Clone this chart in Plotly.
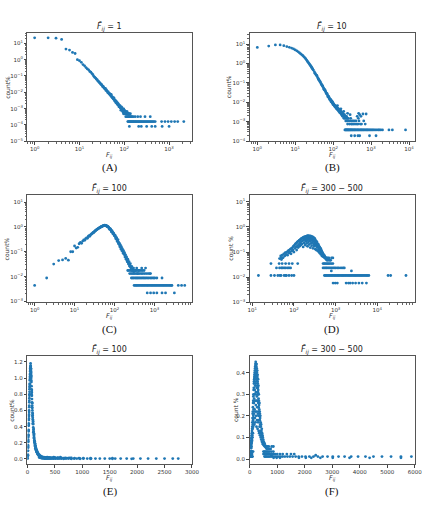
import plotly.graph_objects as go

BLUE = "#1f77b4"
W, H = 431, 505

# ---------------- Panel A : F^ = 1 (log-log) ----------------
A_head_x = [1, 2, 3, 4, 5, 6, 7, 8, 9, 10, 11, 12, 13, 14, 15, 16, 17, 18, 19, 20]
A_head_y = [22, 22, 21, 17.4, 4.5, 3.9, 2.8, 2.4, 1.0, 0.87, 0.69, 0.5, 0.42, 0.33, 0.27, 0.24, 0.19, 0.17, 0.14, 0.12]
A_band_x = [21, 22, 23, 24, 25, 26, 27, 28, 29, 30, 31, 32, 33, 34, 35, 36, 37, 38, 39, 40,
            41, 42, 43, 44, 45, 46, 47, 48, 49, 50, 52, 53, 54, 55, 56, 57, 58, 60, 61, 62,
            64, 65, 66, 68, 69, 70, 72, 73, 75, 76, 78, 80, 81, 83, 85, 86, 88, 90, 91, 93,
            95, 97, 99, 101, 103, 105, 107, 110, 112, 115, 118, 120, 123, 126, 129, 133, 137, 140, 145, 150,
            160, 175, 200, 230, 290, 380,
            51, 59, 63, 67, 71, 74, 77, 79, 82, 84, 87, 89, 92, 94, 96, 98, 100, 102, 104, 106,
            108, 111, 113, 116, 119, 122, 125, 128]
A_band_y = [.095, .082, .074, .063, .058, .048, .045, .039, .036, .031, .030, .026, .022, .023, .019, .018, .016, .017, .013, .014,
            .012, .011, .0095, .0105, .0088, .0079, .0085, .0071, .0064, .0068, .0058, .0049, .0052, .0044, .0047, .0038, .0041, .0035, .0029, .0033,
            .0027, .0023, .0029, .0022, .0019, .0023, .0017, .0020, .0016, .0013, .0015, .0012, .00144, .00112, .00096, .00128, .0008, .00096, .0008, .00064,
            .0008, .00096, .00064, .0008, .00064, .00048, .00064, .00048, .00064, .00048, .00032, .00048, .00032, .00048, .00032, .00032, .00048, .00032, .00032, .00032,
            .00032, .00032, .00032, .00032, .00032, .00032,
            .0075, .0045, .0031, .0025, .0019, .0018, .0016, .00128, .00112, .0008, .00096, .00112, .0008, .00064, .00048, .0008, .00048, .00064, .00048, .00064,
            .00032, .00048, .00032, .00064, .00048, .00048, .00032, .00048]
A_floor_x = [120, 124, 128, 132, 136, 140, 145, 150, 155, 160, 166, 172, 178, 185, 192, 200, 208, 216, 225, 235,
             245, 256, 268, 280, 293, 307, 322, 338, 355, 373, 392, 412, 435, 460, 490, 680, 810, 950, 1120, 1330,
             1560, 2130]
A_floor_level = 1.6e-4
A_low_x = [130, 210, 240, 316, 410, 490, 700, 1000]
A_low_level = 8e-5

# ---------------- Panel B : F^ = 10 (log-log) ----------------
B_curve_x = [1, 2, 3, 4, 5, 6, 7, 8, 9, 10, 11, 12, 13, 14, 15, 16, 17, 18, 19, 20,
             21, 22, 23, 24, 25, 26, 27, 28, 29, 30, 32, 34, 36, 38, 40, 42, 44, 46, 48, 50,
             52, 54, 56, 58, 60, 62, 64, 66, 68, 70, 72, 74, 76, 78, 80, 83, 86, 89, 92, 95,
             98, 100]
B_curve_y = [6.7, 7.9, 9.0, 9.0, 8.3, 7.4, 6.8, 6.2, 5.6, 5.0, 4.5, 4.0, 3.5, 3.1, 2.8, 2.5, 2.2, 1.95, 1.7, 1.5,
             1.3, 1.15, 1.02, 0.9, 0.8, 0.72, 0.64, 0.57, 0.51, 0.46, 0.37, 0.30, 0.25, 0.21, 0.175, 0.148, 0.125, 0.107, 0.092, 0.080,
             0.070, 0.061, 0.054, 0.048, 0.042, 0.038, 0.034, 0.030, 0.027, 0.025, 0.022, 0.020, 0.019, 0.017, 0.016, 0.014, 0.0128, 0.0115, 0.0105, 0.0097,
             0.0090, 0.0086]
B_noise_x = [33, 37, 41, 45, 49, 53, 57, 61, 65, 69, 73, 77, 81, 85, 88, 91, 94, 97, 99]
B_noise_y = [0.31, 0.24, 0.15, 0.12, 0.082, 0.07, 0.047, 0.044, 0.030, 0.028, 0.019, 0.0195, 0.0138, 0.0145, 0.0108, 0.0122, 0.0093, 0.0104, 0.0078]
B_band_x = [102, 104, 106, 108, 110, 112, 114, 116, 118, 120, 122, 124, 126, 128, 130, 130, 132, 134, 136, 138,
            140, 142, 144, 146, 148, 150, 153, 156, 159, 160, 162, 165, 168, 171, 174, 177, 180, 184, 188, 190,
            192, 196, 200, 205, 210, 215, 220, 225, 230, 235, 240, 240, 245, 250, 260, 270, 280, 280, 290, 300,
            310, 320, 335, 350, 365, 380, 400, 420, 430, 450, 460, 470, 480, 500, 520, 540, 560, 610, 640, 700,
            740]
B_band_y = [.0076, .0084, .0068, .0072, .0061, .0068, .0057, .0065, .0053, .0061, .0046, .0057, .0049, .0053, .0042, .0068, .0049, .0046, .0038, .0042,
            .0046, .0034, .0038, .0042, .0030, .0034, .0038, .0027, .0030, .0046, .0034, .0023, .0027, .0030, .0023, .0019, .0027, .0019, .0023, .0034,
            .0015, .0019, .0023, .0015, .0019, .0011, .0015, .0019, .0011, .0015, .00076, .0027, .0011, .0015, .0011, .00076, .0011, .0023, .0015, .00076,
            .0011, .00076, .0011, .00076, .0011, .00076, .0011, .00076, .0019, .00076, .0015, .0027, .0011, .0023, .00076, .0019, .00076, .0025, .0011, .00076,
            .0025]
B_floor_x = [204, 210, 218, 225, 232, 240, 248, 256, 265, 275, 285, 295, 305, 318, 330, 345, 360, 375, 390, 410,
             430, 450, 470, 495, 520, 545, 570, 600, 630, 660, 700, 740, 780, 820, 870, 920, 980, 1050, 1120, 1200,
             1300, 1420, 1550, 1650, 1800, 2000, 2960, 3640, 8100]
B_floor_level = 3.8e-4
B_low_x = [300, 370, 450, 500, 910, 1350]
B_low_level = 1.9e-4

# ---------------- Panel C / E : F^ = 100 ----------------
C_head_x = [1, 2, 3, 4, 5, 6, 7, 8, 9, 10, 11, 12]
C_head_y = [.0044, .0088, .032, .044, .047, .054, .046, .1, .1, .17, .14, .15]
C_rise_x = [13, 14, 15, 16, 17, 18, 19, 20, 21, 22, 23, 24, 25, 26, 27, 28, 29, 30, 31, 32,
            33, 34, 35, 36, 37, 38, 39, 40, 41, 42, 43, 44, 45, 46, 47, 48, 49, 50, 51, 52,
            53, 54, 55, 56, 57, 58, 59, 60, 61, 62, 63, 64, 65, 66, 67, 68, 69, 70]
C_rise_y = [.21, .24, .22, .27, .30, .29, .34, .36, .35, .41, .44, .42, .48, .50, .53, .55, .60, .58, .64, .66,
            .70, .72, .75, .78, .80, .83, .86, .88, .90, .93, .92, .97, .98, 1.0, 1.02, 1.05, 1.04, 1.08, 1.10, 1.09,
            1.12, 1.13, 1.15, 1.12, 1.18, 1.14, 1.12, 1.15, 1.10, 1.12, 1.08, 1.10, 1.05, 1.07, 1.03, 1.00, 1.02, 0.97]
C_fall_x = [72, 74, 76, 78, 80, 82, 84, 86, 88, 90, 92, 94, 96, 98, 100, 103, 106, 109, 112, 115,
            118, 121, 124, 127, 130, 134, 138, 142, 146, 150, 155, 160, 165, 170, 175, 180, 186, 192, 198, 205,
            212, 220, 228, 236, 245, 255, 265, 275, 290, 305]
C_fall_y = [.95, .9, .86, .82, .78, .74, .7, .66, .63, .6, .57, .54, .51, .49, .47, .43, .39, .36, .34, .31,
            .29, .27, .25, .23, .21, .19, .175, .16, .15, .135, .12, .11, .1, .09, .085, .075, .068, .06, .054, .048,
            .043, .038, .034, .03, .027, .024, .022, .02, .018, .016]
C_noise_x = [75, 79, 83, 87, 91, 95, 99, 104, 108, 113, 117, 122, 126, 132, 136, 140, 144, 148, 153, 158,
             163, 168, 173, 178, 183, 189, 195, 201, 208, 216, 224, 232, 240, 250, 260, 270, 280, 300, 320, 340,
             360, 380, 400]
C_noise_y = [.8, .84, .64, .69, .53, .56, .44, .46, .33, .37, .26, .31, .21, .22, .16, .19, .13, .16, .11, .13,
             .09, .11, .08, .092, .062, .075, .05, .062, .04, .05, .032, .04, .026, .033, .02, .026, .017, .022, .0176, .0176,
             .022, .0132, .0176]
C_r5_x = [480, 600]
C_r5_level = 0.022
C_r4_x = [215, 230, 250, 270, 290, 310, 330, 360, 390, 420, 460, 500, 550]
C_r4_level = 0.0176
C_r3_x = [240, 260, 280, 300, 320, 345, 370, 400, 430, 470, 510, 560, 620, 690, 760, 800]
C_r3_level = 0.0132
C_r2_x = [265, 285, 305, 330, 355, 380, 410, 440, 480, 520, 560, 610, 660, 720, 790, 860, 940, 1020, 1150, 1550]
C_r2_level = 0.0088
C_r1_x = [310, 330, 350, 370, 395, 420, 450, 480, 510, 545, 580, 620, 660, 700, 750, 800, 850, 900, 960, 1020,
          1090, 1160, 1240, 1320, 1410, 1500, 1600, 1700, 1810, 1930, 2060, 2200, 2350, 2500, 2650, 2750, 3960, 4790, 5750]
C_r1_level = 0.0044
C_rh_x = [660, 800, 960, 1150, 1550, 1900, 3160]
C_rh_level = 0.0022

# ---------------- Panel D / F : F^ = 300 - 500 ----------------
D_l1_x = [14, 28, 34, 41, 46, 49, 58, 63, 66, 76, 88, 100]
D_l2_x = [38, 45, 50, 53, 58, 63, 70, 76, 83]
D_l3_x = [28, 44, 52, 63, 76, 91, 123]
D_l5_x = [49, 53]
D_hump_x = [45, 48, 50, 52, 55, 57, 60, 62, 65, 67, 70, 72, 75, 77, 80, 82, 85, 87, 90, 92,
            95, 97, 100, 103, 106, 108, 111, 113, 116, 118, 121, 123, 126, 128, 131, 133, 136, 138, 141, 143,
            146, 148, 151, 153, 156, 158, 161, 163, 166, 168, 171, 173, 176, 178, 181, 183, 186, 188, 191, 193,
            196, 198, 201, 203, 206, 208, 211, 213, 216, 218, 221, 223, 226, 228, 231, 233, 236, 238, 241, 243,
            246, 248, 251, 253, 256, 258, 261, 263, 266, 268, 271, 273, 276, 278, 281, 283, 286, 288, 291, 293,
            296, 298, 301, 303, 306, 308, 311, 313, 316, 318, 321, 323, 326, 328, 331, 334, 337, 340, 344, 347,
            350, 354, 358, 362, 366, 370, 374, 378, 382, 386, 390, 395, 400, 405, 410, 415, 420, 426, 432, 438,
            444, 450, 456, 463, 470, 477, 484, 492, 500, 508, 517, 526, 535, 545, 555, 566, 578, 590, 605, 620,
            640, 660, 690, 720, 760, 800, 860]
D_hump_y = [.055, .07, .05, .075, .06, .085, .07, .095, .08, .1, .075, .11, .09, .12, .1, .13, .085, .14, .11, .15,
            .12, .17, .1, .19, .14, .21, .16, .22, .12, .24, .18, .26, .15, .27, .2, .29, .17, .3, .23, .32,
            .19, .33, .26, .35, .21, .36, .28, .37, .16, .38, .3, .39, .23, .4, .32, .37, .19, .41, .27, .42,
            .34, .39, .22, .43, .3, .44, .17, .38, .35, .45, .25, .42, .31, .44, .2, .4, .36, .43, .27, .41,
            .15, .44, .33, .39, .22, .42, .29, .4, .18, .37, .34, .41, .24, .38, .3, .36, .14, .39, .27, .35,
            .21, .33, .31, .37, .17, .32, .26, .3, .2, .34, .28, .24, .13, .3, .22, .27, .18, .25, .12, .23,
            .2, .26, .15, .22, .18, .21, .11, .19, .16, .2, .13, .17, .1, .15, .12, .16, .09, .13, .11, .14,
            .08, .12, .1, .11, .07, .1, .08, .09, .065, .08, .07, .075, .06, .07, .058, .062, .058, .052, .058, .047,
            .058, .047, .058, .047, .047, .058, .058]
D_r3_x = [500, 530, 560, 600, 640, 680, 730, 790, 860]
D_r2_x = [500, 540, 580, 620, 670, 720, 780, 850, 920, 1000, 1100, 1200, 1350, 1500, 1620]
D_mid_x = [790, 2400]
D_mid_level = 0.0176
D_r1_x = [540, 570, 600, 640, 680, 720, 770, 820, 870, 930, 990, 1060, 1130, 1200, 1280, 1370, 1460, 1560, 1670, 1780,
          1900, 2030, 2170, 2320, 2480, 2650, 2830, 3020, 3230, 3450, 3690, 3940, 4210, 4500, 4810, 5140, 5500, 5880, 6300, 18200,
          21000, 49000]
D_rh_x = [870, 980, 1100, 1790, 2040, 2240, 2570, 3020, 3630, 4360, 5500]
D_unit = 0.0116  # one count

# ---------------- tick labels ----------------
LOG_TEXT = {-5: "10<sup>\u22125</sup>", -4: "10<sup>\u22124</sup>", -3: "10<sup>\u22123</sup>",
            -2: "10<sup>\u22122</sup>", -1: "10<sup>\u22121</sup>", 0: "10<sup>0</sup>",
            1: "10<sup>1</sup>", 2: "10<sup>2</sup>", 3: "10<sup>3</sup>", 4: "10<sup>4</sup>"}
E_xticks = [0, 500, 1000, 1500, 2000, 2500, 3000]
E_yticks = [0.0, 0.2, 0.4, 0.6, 0.8, 1.0, 1.2]
F_xticks = [0, 1000, 2000, 3000, 4000, 5000, 6000]
F_yticks = [0.0, 0.1, 0.2, 0.3, 0.4]


def lev(xs, level):
    return [level] * len(xs)


def join(*pairs):
    xs, ys = [], []
    for px, py in pairs:
        assert len(px) == len(py), (len(px), len(py))
        xs += list(px)
        ys += list(py)
    return xs, ys


A_x, A_y = join((A_head_x, A_head_y), (A_band_x, A_band_y),
                (A_floor_x, lev(A_floor_x, A_floor_level)), (A_low_x, lev(A_low_x, A_low_level)))
B_x, B_y = join((B_curve_x, B_curve_y), (B_noise_x, B_noise_y), (B_band_x, B_band_y),
                (B_floor_x, lev(B_floor_x, B_floor_level)), (B_low_x, lev(B_low_x, B_low_level)))
C_x, C_y = join((C_head_x, C_head_y), (C_rise_x, C_rise_y), (C_fall_x, C_fall_y), (C_noise_x, C_noise_y),
                (C_r5_x, lev(C_r5_x, C_r5_level)), (C_r4_x, lev(C_r4_x, C_r4_level)),
                (C_r3_x, lev(C_r3_x, C_r3_level)), (C_r2_x, lev(C_r2_x, C_r2_level)),
                (C_r1_x, lev(C_r1_x, C_r1_level)), (C_rh_x, lev(C_rh_x, C_rh_level)))
D_x, D_y = join((D_l1_x, lev(D_l1_x, D_unit)), (D_l2_x, lev(D_l2_x, 2 * D_unit)),
                (D_l3_x, lev(D_l3_x, 3 * D_unit)), (D_l5_x, lev(D_l5_x, 5 * D_unit)),
                (D_hump_x, D_hump_y), (D_r3_x, lev(D_r3_x, 3 * D_unit)), (D_r2_x, lev(D_r2_x, 2 * D_unit)),
                (D_mid_x, lev(D_mid_x, D_mid_level)), (D_r1_x, lev(D_r1_x, D_unit)),
                (D_rh_x, lev(D_rh_x, 0.5 * D_unit)))

TITLE_1 = "<i>F\u0302</i><sub><i>ij</i></sub> = 1"
TITLE_10 = "<i>F\u0302</i><sub><i>ij</i></sub> = 10"
TITLE_100 = "<i>F\u0302</i><sub><i>ij</i></sub> = 100"
TITLE_35 = "<i>F\u0302</i><sub><i>ij</i></sub> = 300 \u2212 500"
XLABEL = "<i>F</i><sub><i>ij</i></sub>"

panels = [
    dict(x=A_x, y=A_y, px=(26, 194), py=(33, 142), log=True, xr=[-0.16, 3.51], yr=[-5.0, 1.65],
         xe=[0, 1, 2, 3], ye=[-5, -4, -3, -2, -1, 0, 1], title=TITLE_1, ylab="count%", ylx=6, lab="(A)"),
    dict(x=B_x, y=B_y, px=(253, 421.5), py=(33, 142), log=True, xr=[-0.2, 4.15], yr=[-4.0, 1.58],
         xe=[0, 1, 2, 3, 4], ye=[-4, -3, -2, -1, 0, 1], title=TITLE_10, ylab="count%", ylx=232, lab="(B)"),
    dict(x=C_x, y=C_y, px=(26, 194), py=(196, 304), log=True, xr=[-0.18, 3.94], yr=[-3.03, 1.29],
         xe=[0, 1, 2, 3], ye=[-3, -2, -1, 0, 1], title=TITLE_100, ylab="count%", ylx=5, lab="(C)"),
    dict(x=D_x, y=D_y, px=(253, 421.5), py=(196, 304), log=True, xr=[0.937, 4.9], yr=[-3.0, 1.28],
         xe=[1, 2, 3, 4], ye=[-3, -2, -1, 0, 1], title=TITLE_35, ylab="count %", ylx=233, lab="(D)"),
    dict(x=C_x, y=C_y, px=(26, 194), py=(358, 467), log=False, xr=[0, 3000], yr=[-0.065, 1.274],
         xt=E_xticks, yt=E_yticks, yfmt="{:.1f}", title=TITLE_100, ylab="count%", ylx=9, lab="(E)"),
    dict(x=D_x, y=D_y, px=(253, 421.5), py=(358, 467), log=False, xr=[0, 6000], yr=[-0.024, 0.478],
         xt=F_xticks, yt=F_yticks, yfmt="{:.1f}", title=TITLE_35, ylab="count %", ylx=238, lab="(F)"),
]

fig = go.Figure()
annotations = []
tickfont = dict(family="DejaVu Sans", size=5.5, color="#333333")
layout = dict(width=W, height=H, margin=dict(l=0, r=0, t=0, b=0),
              paper_bgcolor="white", plot_bgcolor="white", showlegend=False)

for i, p in enumerate(panels, start=1):
    xid = "x" if i == 1 else f"x{i}"
    yid = "y" if i == 1 else f"y{i}"
    fig.add_trace(go.Scatter(x=p["x"], y=p["y"], mode="markers", xaxis=xid, yaxis=yid,
                             marker=dict(color=BLUE, size=2.8, line=dict(width=0)),
                             hoverinfo="skip"))
    xd = [p["px"][0] / W, p["px"][1] / W]
    yd = [1 - p["py"][1] / H, 1 - p["py"][0] / H]
    common = dict(showgrid=False, zeroline=False, showline=True, mirror=True, linecolor="#555555",
                  linewidth=1, ticks="outside", ticklen=2.5, tickwidth=0.7, tickcolor="#444444",
                  tickfont=tickfont)
    if p["log"]:
        xa = dict(type="log", range=p["xr"], tickmode="array",
                  tickvals=[10.0 ** e for e in p["xe"]], ticktext=[LOG_TEXT[e] for e in p["xe"]],
                  minor=dict(ticks="outside", ticklen=1.5, tickwidth=0.5, tickcolor="#666666", dtick="D1"))
        ya = dict(type="log", range=p["yr"], tickmode="array",
                  tickvals=[10.0 ** e for e in p["ye"]], ticktext=[LOG_TEXT[e] for e in p["ye"]],
                  minor=dict(ticks="outside", ticklen=1.5, tickwidth=0.5, tickcolor="#666666", dtick="D1"))
    else:
        xa = dict(type="linear", range=p["xr"], tickmode="array", tickvals=p["xt"],
                  ticktext=[str(v) for v in p["xt"]])
        ya = dict(type="linear", range=p["yr"], tickmode="array", tickvals=p["yt"],
                  ticktext=[p["yfmt"].format(v) for v in p["yt"]])
    xa.update(common)
    ya.update(common)
    xa.update(domain=xd, anchor=yid)
    ya.update(domain=yd, anchor=xid)
    layout["xaxis" if i == 1 else f"xaxis{i}"] = xa
    layout["yaxis" if i == 1 else f"yaxis{i}"] = ya

    cx = (xd[0] + xd[1]) / 2
    top = p["py"][0]
    bot = p["py"][1]
    annotations.append(dict(text=p["title"], x=cx, y=1 - (top - 6) / H, xref="paper", yref="paper",
                            showarrow=False, xanchor="center", yanchor="middle",
                            font=dict(family="DejaVu Sans", size=8, color="#222222")))
    annotations.append(dict(text=XLABEL, x=cx, y=1 - (bot + 13.5) / H, xref="paper", yref="paper",
                            showarrow=False, xanchor="center", yanchor="middle",
                            font=dict(family="DejaVu Sans", size=6.5, color="#333333")))
    annotations.append(dict(text=p["ylab"], x=p["ylx"] / W, y=(yd[0] + yd[1]) / 2, xref="paper", yref="paper",
                            showarrow=False, xanchor="center", yanchor="middle", textangle=-90,
                            font=dict(family="DejaVu Sans", size=6, color="#333333")))
    annotations.append(dict(text=p["lab"], x=cx, y=1 - (bot + 27) / H, xref="paper", yref="paper",
                            showarrow=False, xanchor="center", yanchor="middle",
                            font=dict(family="Liberation Serif", size=11, color="#111111")))

layout["annotations"] = annotations
fig.update_layout(**layout)
fig.write_html("out.html")
